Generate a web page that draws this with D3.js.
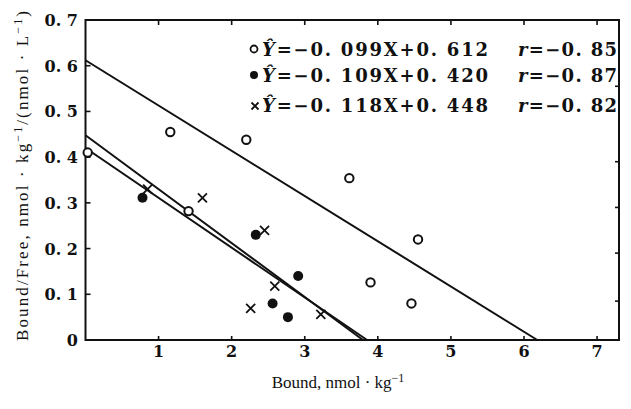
<!DOCTYPE html>
<html>
<head>
<meta charset="utf-8">
<script src="https://cdn.jsdelivr.net/npm/d3@7"></script>
<style>
  html, body { margin: 0; padding: 0; background: #fff; }
  svg { display: block; }
  .tick-label { font-family: "DejaVu Serif", "Liberation Serif", serif; font-weight: bold; font-size: 16px; fill: #111; }
  .legend { font-family: "DejaVu Serif", "Liberation Serif", serif; font-weight: bold; font-size: 18px; fill: #111; }
  .axis-title { font-family: "Liberation Serif", "DejaVu Serif", serif; font-size: 17px; fill: #111; }
</style>
</head>
<body>
<svg id="chart" width="631" height="409"></svg>
<script>
// Scatchard plot data
const openPts = [[0.03, 0.41], [1.16, 0.455], [1.41, 0.282], [2.2, 0.438], [3.61, 0.354], [3.9, 0.126], [4.46, 0.08], [4.55, 0.22]];
const filledPts = [[0.78, 0.311], [2.33, 0.23], [2.91, 0.14], [2.56, 0.08], [2.77, 0.05]];
const crossPts = [[0.85, 0.33], [1.6, 0.311], [2.45, 0.24], [2.59, 0.118], [2.26, 0.069], [3.22, 0.056]];

// regression lines: slope, intercept
const fits = [
  { slope: -0.099, intercept: 0.612, eq: '=−0. 099X+0. 612', r: '=−0. 85' },
  { slope: -0.109, intercept: 0.420, eq: '=−0. 109X+0. 420', r: '=−0. 87' },
  { slope: -0.118, intercept: 0.448, eq: '=−0. 118X+0. 448', r: '=−0. 82' }
];

const xTicks = [1, 2, 3, 4, 5, 6, 7];
const yTicks = [0, 0.1, 0.2, 0.3, 0.4, 0.5, 0.6, 0.7];
const rightTicks = [0.085, 0.19, 0.29, 0.39, 0.555];

const svg = d3.select('#chart');
const plot = { left: 85.5, right: 619, top: 20, bottom: 340 };

const x = d3.scaleLinear().domain([0, 7.3]).range([plot.left, plot.right]);
const y = d3.scaleLinear().domain([0, 0.7]).range([plot.bottom, plot.top]);

// frame
svg.append('rect')
  .attr('x', plot.left).attr('y', plot.top)
  .attr('width', plot.right - plot.left).attr('height', plot.bottom - plot.top)
  .attr('fill', 'none').attr('stroke', '#111').attr('stroke-width', 2);

// inward ticks
const tickG = svg.append('g').attr('stroke', '#111').attr('stroke-width', 1.6);
xTicks.forEach(v => {
  tickG.append('line').attr('x1', x(v)).attr('x2', x(v)).attr('y1', plot.bottom).attr('y2', plot.bottom - 4);
  tickG.append('line').attr('x1', x(v)).attr('x2', x(v)).attr('y1', plot.top).attr('y2', plot.top + 5);
});
yTicks.slice(1, -1).forEach(v => {
  tickG.append('line').attr('x1', plot.left).attr('x2', plot.left + 5).attr('y1', y(v)).attr('y2', y(v));
});
rightTicks.forEach(v => {
  tickG.append('line').attr('x1', plot.right).attr('x2', plot.right - 4).attr('y1', y(v)).attr('y2', y(v));
});

// tick labels
svg.append('g').selectAll('text').data(xTicks).join('text')
  .attr('class', 'tick-label')
  .attr('x', d => x(d)).attr('y', 357)
  .attr('text-anchor', 'middle')
  .text(d => d);

svg.append('g').selectAll('text').data(yTicks).join('text')
  .attr('class', 'tick-label')
  .attr('x', 78).attr('y', d => y(d) + 6)
  .attr('text-anchor', 'end')
  .text(d => d === 0 ? '0' : '0. ' + Math.round(d * 10));

// axis titles
svg.append('text').attr('class', 'axis-title')
  .attr('x', 338).attr('y', 388)
  .attr('text-anchor', 'middle')
  .html('Bound, nmol · kg<tspan dy="-6" font-size="12">−1</tspan>');

svg.append('text').attr('class', 'axis-title')
  .attr('transform', 'translate(28,176) rotate(-90)')
  .attr('text-anchor', 'middle')
  .attr('textLength', 330)
  .attr('lengthAdjust', 'spacing')
  .html('Bound/Free, nmol · kg<tspan dy="-6" font-size="12">−1</tspan><tspan dy="6">/(nmol · L</tspan><tspan dy="-6" font-size="12">−1</tspan><tspan dy="6">)</tspan>');

// regression lines, from x = 0 to where they reach 0
const lineG = svg.append('g').attr('stroke', '#111').attr('stroke-width', 2).attr('fill', 'none');
fits.forEach(f => {
  const x0 = -f.intercept / f.slope;
  lineG.append('line')
    .attr('x1', x(0)).attr('y1', y(f.intercept))
    .attr('x2', x(x0)).attr('y2', y(0));
});

// markers
const drawCross = (g, cx, cy, s) => {
  g.append('path')
    .attr('d', `M${cx - s},${cy - s}L${cx + s},${cy + s}M${cx - s},${cy + s}L${cx + s},${cy - s}`)
    .attr('stroke', '#111').attr('stroke-width', 1.8).attr('fill', 'none');
};

const markG = svg.append('g');
markG.selectAll('circle.open').data(openPts).join('circle')
  .attr('class', 'open')
  .attr('cx', d => x(d[0])).attr('cy', d => y(d[1])).attr('r', 4.2)
  .attr('fill', '#fff').attr('stroke', '#111').attr('stroke-width', 2);
markG.selectAll('circle.filled').data(filledPts).join('circle')
  .attr('class', 'filled')
  .attr('cx', d => x(d[0])).attr('cy', d => y(d[1])).attr('r', 5)
  .attr('fill', '#111');
crossPts.forEach(d => drawCross(markG, x(d[0]), y(d[1]), 4.5));

// legend
const rowsY = [50, 76, 106];
const legG = svg.append('g');
legG.append('circle').attr('cx', 254).attr('cy', rowsY[0] - 1).attr('r', 3.5)
  .attr('fill', '#fff').attr('stroke', '#111').attr('stroke-width', 1.8);
legG.append('circle').attr('cx', 254).attr('cy', rowsY[1] - 1).attr('r', 4).attr('fill', '#111');
drawCross(legG, 255, rowsY[2], 3.5);

fits.forEach((f, i) => {
  const t = legG.append('text').attr('class', 'legend')
    .attr('x', 262).attr('y', rowsY[i] + 6)
    .attr('textLength', 226).attr('lengthAdjust', 'spacing');
  t.append('tspan').attr('font-style', 'italic').text('Ŷ');
  t.append('tspan').text(f.eq);
  const r = legG.append('text').attr('class', 'legend')
    .attr('x', 518).attr('y', rowsY[i] + 6)
    .attr('textLength', 99).attr('lengthAdjust', 'spacing');
  r.append('tspan').attr('font-style', 'italic').text('r');
  r.append('tspan').text(f.r);
});
</script>
</body>
</html>
